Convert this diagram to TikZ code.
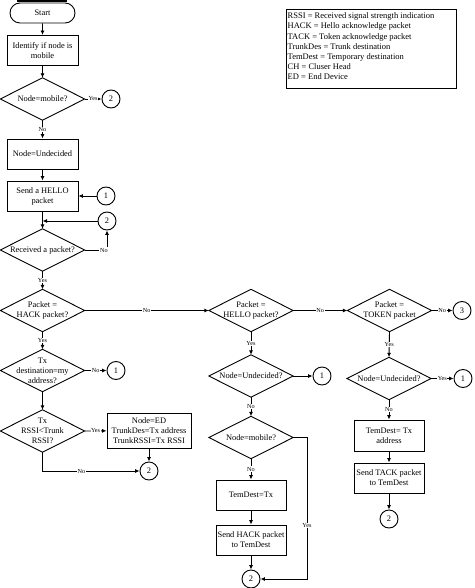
\documentclass[tikz,border=0pt]{standalone}
\usepackage{fontspec}
\setmainfont{Liberation Serif}
\usetikzlibrary{arrows.meta,shapes.misc}
\tikzset{
  ln/.style={line width=0.9pt},
  arr/.style={ln,-{Latex[length=4.5pt,width=4pt]}},
  txt/.style={font=\fontsize{8.4}{10}\selectfont, align=center},
  boxn/.style={txt,draw,ln,rectangle,inner sep=0pt,minimum width=71pt,minimum height=30pt},
  termn/.style={txt,draw,ln,rounded rectangle,inner sep=0pt,minimum width=65pt,minimum height=20pt},
  dian/.style={txt,rectangle,inner sep=0pt,minimum width=84pt,minimum height=42pt},
  circn/.style={draw,ln,circle,inner sep=0pt,minimum size=18pt,font=\fontsize{8.4}{9}\selectfont},
  lbl/.style={font=\fontsize{6.2}{7}\selectfont,fill=white,inner sep=0.6pt},
  legn/.style={font=\fontsize{8.5}{10.2}\selectfont,align=left,inner sep=0pt},
}
\newcommand\diaedge[1]{\draw[ln] (#1.north) -- (#1.east) -- (#1.south) -- (#1.west) -- cycle;}
\begin{document}
\begin{tikzpicture}[x=1pt,y=-1pt]
\useasboundingbox (0,0) rectangle (474,588);
\fill (17,0) rectangle (67,1.8);
% legend
\node[draw,ln,rectangle,minimum width=170pt,minimum height=79pt,anchor=north west,inner sep=0pt] (leg) at (286,9) {};
\node[legn,anchor=north west] (legt) at (287.5,12.6) {RSSI = Received signal strength indication\\HACK = Hello acknowledge packet\\TACK = Token acknowledge packet\\TrunkDes = Trunk destination\\TemDest = Temporary destination\\CH = Cluser Head\\ED = End Device};
% left column
\node[termn] (start) at (42.5,13) {Start};
\node[boxn] (ident) at (42.5,50.5) {Identify if node is\\mobile};
\node[dian] (mob1) at (42.5,99) {Node=mobile?};
\node[circn] (c2a) at (111,99) {2};
\node[boxn] (und) at (42.5,154) {Node=Undecided};
\node[boxn] (hello) at (42.5,196) {Send a HELLO\\packet};
\node[circn] (c1a) at (106,196) {1};
\node[circn] (c2b) at (107,221) {2};
\coordinate (j1) at (42.5,221);
\node[dian] (recv) at (42.5,250) {Received a packet?};
\node[dian] (hack) at (42.5,310.5) {Packet =\\HACK packet?};
\node[dian] (txd) at (42.5,370.5) {Tx\\destination=my\\address?};
\node[circn] (c1b) at (116,370.5) {1};
\node[dian] (rssi) at (42.5,431) {Tx\\RSSI<Trunk\\RSSI?};
\node[boxn,minimum width=84pt,minimum height=35pt] (ed) at (149,430.5) {Node=ED\\TrunkDes=Tx address\\TrunkRSSI=Tx RSSI};
\node[circn] (c2c) at (149,471) {2};
% middle column
\node[dian] (hel) at (251,310.5) {Packet =\\HELLO packet?};
\node[dian] (und2) at (251,376) {Node=Undecided?};
\node[circn] (c1c) at (322,376) {1};
\node[dian] (mob2) at (251,437.5) {Node=mobile?};
\node[boxn,minimum width=70pt] (tem2) at (251,495) {TemDest=Tx};
\node[boxn,minimum width=70pt] (hackp) at (251,540) {Send HACK packet\\to TemDest};
\node[circn] (c2d) at (251,579) {2};
\coordinate (m2r) at (307,437.5);
\coordinate (m2b) at (307,579);
% right column
\node[dian] (tok) at (389.5,310.5) {Packet =\\TOKEN packet};
\node[circn] (c3) at (462,310.5) {3};
\node[dian] (und3) at (389,378.5) {Node=Undecided?};
\node[circn] (c1d) at (463,378.5) {1};
\node[boxn,minimum width=70pt,minimum height=31pt] (tem3) at (389,435.5) {TemDest= Tx\\address};
\node[boxn,minimum width=70pt] (tackp) at (389,478) {Send TACK packet\\to TemDest};
\node[circn] (c2e) at (389,519) {2};
% diamond outlines
\diaedge{mob1}\diaedge{recv}\diaedge{hack}\diaedge{txd}\diaedge{rssi}
\diaedge{hel}\diaedge{und2}\diaedge{mob2}\diaedge{tok}\diaedge{und3}
% connectors left
\draw[arr] (start) -- (ident);
\draw[arr] (ident) -- (mob1.north);
\draw[arr] (mob1.east) -- node[lbl]{Yes} (c2a);
\draw[arr] (mob1.south) -- node[lbl]{No} (und);
\draw[arr] (und) -- (hello);
\draw[arr] (c1a) -- (hello);
\draw[arr] (hello) -- (recv.north);
\draw[arr] (c2b) -- (j1);
\draw[arr] (recv.east) -| node[lbl,pos=0.43]{No} (c2b);
\draw[arr] (recv.south) -- node[lbl]{Yes} (hack.north);
\draw[arr] (hack.east) -- node[lbl]{No} (hel.west);
\draw[arr] (hack.south) -- node[lbl]{Yes} (txd.north);
\draw[arr] (txd.east) -- node[lbl]{No} (c1b);
\draw[arr] (txd.south) -- (rssi.north);
\draw[arr] (rssi.east) -- node[lbl]{Yes} (ed);
\draw[arr] (ed) -- (c2c);
\draw[arr] (rssi.south) |- node[lbl,pos=0.7]{No} (c2c);
% connectors middle
\draw[arr] (hel.east) -- node[lbl]{No} (tok.west);
\draw[arr] (hel.south) -- node[lbl]{Yes} (und2.north);
\draw[arr] (und2.east) -- (c1c);
\draw[arr] (und2.south) -- node[lbl]{No} (mob2.north);
\draw[arr] (mob2.south) -- node[lbl]{No} (tem2);
\draw[arr] (tem2) -- (hackp);
\draw[arr] (hackp) -- (c2d);
\draw[arr] (mob2.east) -- (m2r) -- node[lbl,pos=0.62]{Yes} (m2b) -- (c2d);
% connectors right
\draw[arr] (tok.east) -- node[lbl]{No} (c3);
\draw[arr] (tok.south) -- node[lbl]{Yes} (und3.north);
\draw[arr] (und3.east) -- node[lbl]{Yes} (c1d);
\draw[arr] (und3.south) -- node[lbl]{No} (tem3);
\draw[arr] (tem3) -- (tackp);
\draw[arr] (tackp) -- (c2e);
\end{tikzpicture}
\end{document}
